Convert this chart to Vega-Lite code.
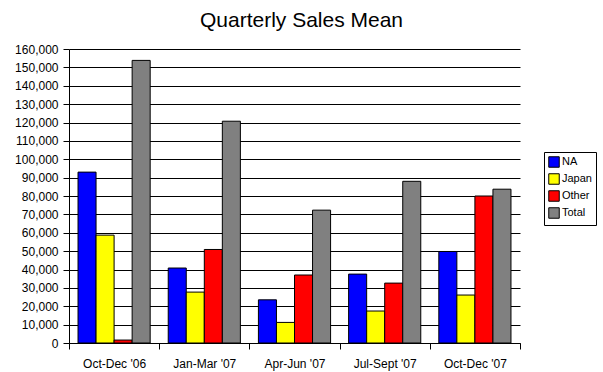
{
  "$schema": "https://vega.github.io/schema/vega-lite/v6.json",
  "width": 451,
  "height": 294,
  "autosize": {"type": "none"},
  "padding": {"left": 69, "top": 49, "right": 83, "bottom": 29},
  "background": "white",
  "title": {
    "text": "Quarterly Sales Mean",
    "font": "Liberation Sans",
    "fontSize": 21,
    "fontWeight": "normal",
    "color": "black",
    "anchor": "middle",
    "frame": "group",
    "dx": 7,
    "offset": 12
  },
  "data": {
    "values": [
      {"quarter": "Oct-Dec '06", "region": "NA", "sales": 93000},
      {"quarter": "Oct-Dec '06", "region": "Japan", "sales": 58700},
      {"quarter": "Oct-Dec '06", "region": "Other", "sales": 1600},
      {"quarter": "Oct-Dec '06", "region": "Total", "sales": 153800},
      {"quarter": "Jan-Mar '07", "region": "NA", "sales": 40800},
      {"quarter": "Jan-Mar '07", "region": "Japan", "sales": 27700},
      {"quarter": "Jan-Mar '07", "region": "Other", "sales": 50900},
      {"quarter": "Jan-Mar '07", "region": "Total", "sales": 120700},
      {"quarter": "Apr-Jun '07", "region": "NA", "sales": 23500},
      {"quarter": "Apr-Jun '07", "region": "Japan", "sales": 11200},
      {"quarter": "Apr-Jun '07", "region": "Other", "sales": 37000},
      {"quarter": "Apr-Jun '07", "region": "Total", "sales": 72300},
      {"quarter": "Jul-Sept '07", "region": "NA", "sales": 37500},
      {"quarter": "Jul-Sept '07", "region": "Japan", "sales": 17400},
      {"quarter": "Jul-Sept '07", "region": "Other", "sales": 32600},
      {"quarter": "Jul-Sept '07", "region": "Total", "sales": 88000},
      {"quarter": "Oct-Dec '07", "region": "NA", "sales": 49800},
      {"quarter": "Oct-Dec '07", "region": "Japan", "sales": 26100},
      {"quarter": "Oct-Dec '07", "region": "Other", "sales": 80000},
      {"quarter": "Oct-Dec '07", "region": "Total", "sales": 83700}
    ]
  },
  "mark": {"type": "bar", "stroke": "black", "strokeWidth": 1, "strokeOpacity": 1},
  "encoding": {
    "x": {
      "field": "quarter",
      "type": "nominal",
      "sort": null,
      "title": null,
      "scale": {"paddingInner": 0, "paddingOuter": 0},
      "axis": {
        "labelAngle": 0,
        "tickBand": "extent",
        "tickSize": 6,
        "tickColor": "black",
        "domainColor": "black",
        "labelFont": "Liberation Sans",
        "labelFontSize": 12,
        "labelColor": "black",
        "labelPadding": 9,
        "grid": false
      }
    },
    "xOffset": {
      "field": "region",
      "type": "nominal",
      "sort": ["NA", "Japan", "Other", "Total"],
      "scale": {"paddingInner": 0, "paddingOuter": 0.5}
    },
    "y": {
      "field": "sales",
      "type": "quantitative",
      "title": null,
      "scale": {"domain": [0, 160000], "nice": false},
      "axis": {
        "values": [0, 10000, 20000, 30000, 40000, 50000, 60000, 70000, 80000, 90000, 100000, 110000, 120000, 130000, 140000, 150000, 160000],
        "format": ",.0f",
        "grid": true,
        "gridColor": "black",
        "gridOpacity": 1,
        "gridWidth": 1,
        "tickSize": 6,
        "tickColor": "black",
        "domainColor": "black",
        "labelFont": "Liberation Sans",
        "labelFontSize": 12,
        "labelColor": "black",
        "labelPadding": 5
      }
    },
    "color": {
      "field": "region",
      "type": "nominal",
      "sort": ["NA", "Japan", "Other", "Total"],
      "scale": {"domain": ["NA", "Japan", "Other", "Total"], "range": ["#0000FF", "#FFFF00", "#FF0000", "#808080"]},
      "legend": {
        "title": null,
        "orient": "none",
        "legendX": 475,
        "legendY": 103,
        "symbolType": "square",
        "symbolSize": 110,
        "symbolStrokeColor": "black",
        "symbolStrokeWidth": 1,
        "symbolOpacity": 1,
        "labelFont": "Liberation Sans",
        "labelFontSize": 11,
        "labelColor": "black",
        "labelOffset": 2,
        "rowPadding": 1,
        "strokeColor": "black",
        "padding": 4,
        "fillColor": "white"
      }
    }
  },
  "config": {
    "view": {"stroke": null},
    "axis": {"domainWidth": 1, "tickWidth": 1}
  }
}
